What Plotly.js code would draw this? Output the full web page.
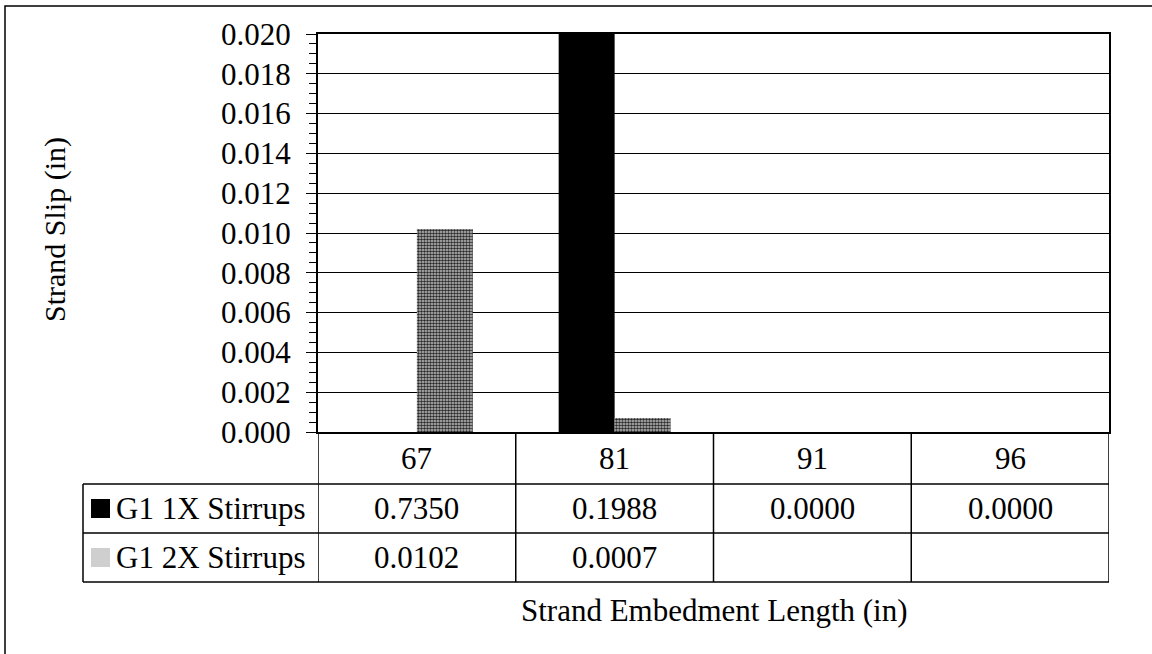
<!DOCTYPE html>
<html>
<head>
<meta charset="utf-8">
<script src="https://cdn.plot.ly/plotly-3.0.1.min.js"></script>
<style>html,body{margin:0;padding:0;background:#fff;}#chart{width:1152px;height:654px;}</style>
</head>
<body>
<div id="chart"></div>
<script>
// ---- data ----
const categories = ["67", "81", "91", "96"];
const seriesNames = ["G1 1X Stirrups", "G1 2X Stirrups"];
// values shown in the data table
const table1X = ["0.7350", "0.1988", "0.0000", "0.0000"];
const table2X = ["0.0102", "0.0007", "", ""];
// bar heights as drawn in the picture (no 1X bar is drawn at 67)
const bars1X = [null, 0.1988, 0.0000, 0.0000];
const bars2X = [0.0102, 0.0007, null, null];
const yTitle = "Strand Slip (in)";
const xTitle = "Strand Embedment Length (in)";

// ---- layout geometry (pixels) ----
const W = 1152, H = 654;
const L = 318, R = 1109, T = 34, B = 432;
const PW = R - L, PH = B - T;
const px = x => (x - L) / PW;
const py = y => (B - y) / PH;
const FONT = "Liberation Serif, Times New Roman, serif";
const rowY = [432, 484, 533, 582];

const traces = [
  {type: "bar", name: seriesNames[0], x: categories, y: bars1X,
   marker: {color: "#000000", line: {width: 0}}},
  {type: "bar", name: seriesNames[1], x: categories, y: bars2X,
   marker: {color: "#8c8c8c", line: {width: 0},
            pattern: {shape: ".", fgcolor: "#2a2a2a", bgcolor: "#c4c4c4", size: 3, solidity: 0.55}}}
];

const shapes = [];
const annotations = [];
const line = {color: "#000", width: 1.5};

// table vertical lines at category boundaries
for (let i = 0; i <= categories.length; i++) {
  shapes.push({type: "line", xref: "x", yref: "paper", x0: i - 0.5, x1: i - 0.5,
               y0: py(rowY[0]), y1: py(rowY[3]), line});
}
// legend column left edge
shapes.push({type: "line", xref: "paper", yref: "paper", x0: px(83), x1: px(83),
             y0: py(rowY[1]), y1: py(rowY[3]), line});
// horizontal table lines
for (let r = 1; r <= 3; r++) {
  shapes.push({type: "line", xref: "paper", yref: "paper", x0: px(83), x1: px(R),
               y0: py(rowY[r]), y1: py(rowY[r]), line});
}
// legend keys
shapes.push({type: "rect", xref: "paper", yref: "paper", x0: px(91), x1: px(110),
             y0: py(499), y1: py(518), fillcolor: "#000", line: {width: 0}});
shapes.push({type: "rect", xref: "paper", yref: "paper", x0: px(91), x1: px(110),
             y0: py(548), y1: py(567), fillcolor: "#cfcfcf", line: {width: 0}});
// outer frame
shapes.push({type: "rect", xref: "paper", yref: "paper", x0: px(5), x1: px(1170),
             y0: py(6), y1: py(700), line: {color: "#000", width: 1.5}, fillcolor: "rgba(0,0,0,0)"});

const tfont = {family: FONT, size: 31, color: "#000"};
const rowsText = [categories, table1X, table2X];
for (let r = 0; r < 3; r++) {
  const yc = (rowY[r] + rowY[r + 1]) / 2;
  rowsText[r].forEach((t, i) => {
    if (t === "") return;
    annotations.push({xref: "x", yref: "paper", x: i, y: py(yc), text: t, showarrow: false,
                      xanchor: "center", yanchor: "middle", font: tfont});
  });
}
seriesNames.forEach((n, k) => {
  const yc = (rowY[k + 1] + rowY[k + 2]) / 2;
  annotations.push({xref: "paper", yref: "paper", x: px(114), y: py(yc), text: n, showarrow: false,
                    xanchor: "left", yanchor: "middle", font: tfont});
});
// axis titles
annotations.push({xref: "paper", yref: "paper", x: px(714), y: py(610), text: xTitle, showarrow: false,
                  xanchor: "center", yanchor: "middle", font: tfont});
annotations.push({xref: "paper", yref: "paper", x: px(55), y: py(230), text: yTitle, showarrow: false,
                  textangle: -90, xanchor: "center", yanchor: "middle",
                  font: {family: FONT, size: 30, color: "#000"}});

const layout = {
  width: W, height: H,
  margin: {l: L, r: W - R, t: T, b: H - B, pad: 0},
  paper_bgcolor: "#fff", plot_bgcolor: "#fff",
  showlegend: false,
  barmode: "group", bargap: 0.434, bargroupgap: 0,
  font: {family: FONT, color: "#000"},
  xaxis: {type: "category", range: [-0.5, 3.5], showticklabels: false, ticks: "",
          showgrid: false, zeroline: false, showline: true, linecolor: "#000", linewidth: 2, mirror: true,
          fixedrange: true},
  yaxis: {range: [0, 0.020], dtick: 0.002, tick0: 0, tickformat: ".3f",
          ticks: "outside", ticklen: 10, tickwidth: 1, tickcolor: "#000",
          ticklabelstandoff: 9,
          minor: {dtick: 0.0005, ticks: "outside", ticklen: 7, tickwidth: 1, tickcolor: "#000", showgrid: false},
          showgrid: true, gridcolor: "#000", gridwidth: 1,
          zeroline: false, showline: true, linecolor: "#000", linewidth: 2, mirror: true,
          tickfont: {family: FONT, size: 31, color: "#000"}, fixedrange: true},
  shapes, annotations
};

Plotly.newPlot("chart", traces, layout, {staticPlot: true, displayModeBar: false});
</script>
</body>
</html>
